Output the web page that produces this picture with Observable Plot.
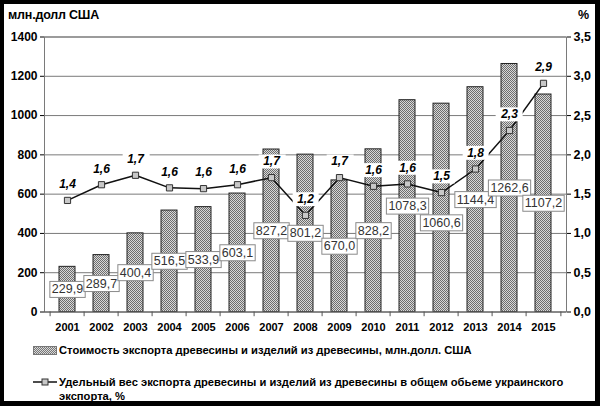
<!DOCTYPE html>
<html><head><meta charset="utf-8">
<script src="https://cdn.jsdelivr.net/npm/d3@7"></script>
<script src="https://cdn.jsdelivr.net/npm/@observablehq/plot@0.6"></script>
<style>
html,body{margin:0;padding:0;background:#fff;}
#page{position:relative;width:600px;height:406px;overflow:hidden;background:#fff;font-family:"Liberation Sans",Arial,sans-serif;}
#frame{position:absolute;left:0;top:0;width:600px;height:406px;box-sizing:border-box;border:4px solid #000;border-right-width:5px;border-bottom-width:5px;pointer-events:none;}
#chart{position:absolute;left:0;top:0;}
.t{position:absolute;font-weight:bold;font-size:12.5px;line-height:14px;color:#000;white-space:nowrap;letter-spacing:-0.2px;}
.leg{position:absolute;font-weight:bold;font-size:11.2px;line-height:14px;color:#000;white-space:nowrap;}
</style></head><body>
<div id="page">
  <div id="chart"></div>
  <div class="t" style="left:8px;top:8px">млн.долл США</div>
  <div class="t" style="left:578px;top:8px">%</div>
  <svg style="position:absolute;left:33px;top:346px" width="25" height="10">
    <defs><pattern id="stipL" width="2" height="2" patternUnits="userSpaceOnUse"><rect width="2" height="2" fill="#d8d8d8"/><rect width="1" height="1" fill="#777"/><rect x="1" y="1" width="1" height="1" fill="#777"/></pattern></defs>
    <rect x="0.5" y="0.5" width="23" height="8" fill="url(#stipL)" stroke="#777"/>
  </svg>
  <div class="leg" id="leg1" style="left:59px;top:343px">Стоимость экспорта древесины и изделий из древесины, млн.долл. США</div>
  <svg style="position:absolute;left:33px;top:377px" width="26" height="10">
    <line x1="0" y1="5" x2="24" y2="5" stroke="#111" stroke-width="1.5"/>
    <rect x="9" y="2" width="6" height="6" fill="#c8c8c8" stroke="#333"/>
  </svg>
  <div class="leg" id="leg2" style="left:59px;top:375px">Удельный вес экспорта древесины и изделий из древесины в общем обьеме украинского<br>экспорта, %</div>
  <div id="frame"></div>
</div>
<script>
const years = ["2001","2002","2003","2004","2005","2006","2007","2008","2009","2010","2011","2012","2013","2014","2015"];
const exportValue = [229.9, 289.7, 400.4, 516.5, 533.9, 603.1, 827.2, 801.2, 670.0, 828.2, 1078.3, 1060.6, 1144.4, 1262.6, 1107.2];
const exportShare = [1.42, 1.62, 1.74, 1.58, 1.57, 1.62, 1.71, 1.23, 1.71, 1.60, 1.63, 1.52, 1.82, 2.31, 2.91];
const leftTicks = [0, 200, 400, 600, 800, 1000, 1200, 1400];
const rightTicks = [0, 0.5, 1.0, 1.5, 2.0, 2.5, 3.0, 3.5];

const k = 1400 / 3.5; // maps % axis onto the value axis
const data = years.map((year, i) => ({year, value: exportValue[i], share: exportShare[i]}));
const fmt1 = v => v.toFixed(1).replace(".", ",");
const lowered = d => d.year === "2012"; // label moved down in the original

const W = 600, H = 340, ML = 44, MR = 34;
const step = (W - ML - MR) / years.length;

const chart = Plot.plot({
  width: W, height: H,
  marginLeft: ML, marginRight: MR, marginTop: 36.5, marginBottom: H - 311.5,
  style: {fontFamily: "'Liberation Sans', Arial, sans-serif", background: "transparent", color: "#000"},
  x: {type: "band", domain: years, paddingInner: 0.54, paddingOuter: 0.27, label: null},
  y: {domain: [0, 1400], label: null},
  marks: [
    Plot.ruleY(leftTicks.slice(1), {stroke: "#7a7a7a", strokeWidth: 1}),
    Plot.barY(data, {x: "year", y: "value", fill: "url(#stip)", stroke: "#222", strokeWidth: 1}),
    Plot.frame({stroke: "#7a7a7a"}),
    Plot.ruleY([0], {stroke: "#555"}),
    Plot.ruleX(years, {x: d => d, dx: -step / 2, y1: 0, y2: -24, stroke: "#555"}),
    Plot.ruleX([years[years.length - 1]], {x: d => d, dx: step / 2, y1: 0, y2: -24, stroke: "#555"}),
    Plot.axisY({anchor: "left", ticks: leftTicks, tickFormat: d => String(d), tickSize: 4, tickPadding: 3, fontSize: 12, fontWeight: "bold", label: null}),
    Plot.axisY({anchor: "right", ticks: rightTicks.map(v => v * k), tickFormat: d => fmt1(d / k), tickSize: 4, tickPadding: 3, fontSize: 12.5, fontWeight: "bold", label: null}),
    Plot.axisX({tickSize: 0, tickPadding: 11, fontSize: 11, fontWeight: "bold", label: null}),
    Plot.text(data.filter(d => !lowered(d)), {x: "year", y: d => d.value / 2, text: d => fmt1(d.value), fontSize: 12.5, fill: "#333"}),
    Plot.text(data.filter(lowered), {x: "year", y: d => d.value / 2, dy: 15, text: d => fmt1(d.value), fontSize: 12.5, fill: "#333"}),
    Plot.line(data, {x: "year", y: d => d.share * k, stroke: "#111", strokeWidth: 1.5}),
    Plot.dot(data, {x: "year", y: d => d.share * k, symbol: "square", r: 3.5, fill: "#c8c8c8", stroke: "#333", strokeWidth: 1}),
    Plot.text(data, {x: "year", y: d => d.share * k, dy: -16, text: d => fmt1(d.share), fontSize: 12, fontWeight: "bold", fontStyle: "italic", fill: "#000"})
  ]
});

const ns = "http://www.w3.org/2000/svg";
const defs = document.createElementNS(ns, "defs");
defs.innerHTML = '<pattern id="stip" width="2" height="2" patternUnits="userSpaceOnUse"><rect width="2" height="2" fill="#d8d8d8"/><rect width="1" height="1" fill="#6e6e6e"/><rect x="1" y="1" width="1" height="1" fill="#6e6e6e"/></pattern>';
chart.insertBefore(defs, chart.firstChild);
document.getElementById("chart").appendChild(chart);

function boxes(group, padX, padY, fill, stroke) {
  if (!group) return;
  group.querySelectorAll("text").forEach(t => {
    const b = t.getBBox();
    const r = document.createElementNS(ns, "rect");
    r.setAttribute("x", b.x - padX + 0.5);
    r.setAttribute("y", b.y - padY + 0.5);
    r.setAttribute("width", b.width + 2 * padX - 1);
    r.setAttribute("height", b.height + 2 * padY - 1);
    r.setAttribute("fill", fill);
    r.setAttribute("stroke", stroke);
    const tr = t.getAttribute("transform");
    if (tr) r.setAttribute("transform", tr);
    t.parentNode.insertBefore(r, t);
  });
}
const textGroups = chart.querySelectorAll('g[aria-label="text"]');
boxes(textGroups[0], 2.5, 1.5, "#fff", "#8a8a8a");
boxes(textGroups[1], 2.5, 1.5, "#fff", "#8a8a8a");
boxes(textGroups[2], 5, 0.5, "#fff", "none");
</script>
</body></html>
